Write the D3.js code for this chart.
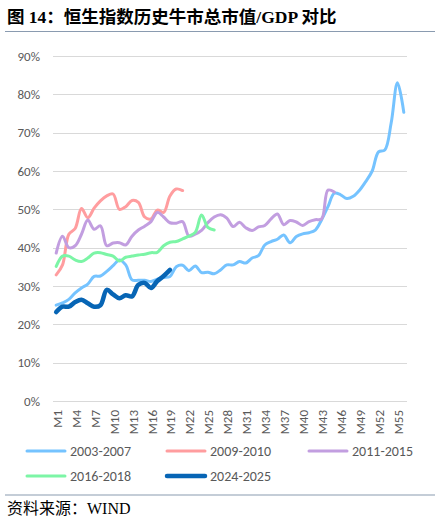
<!DOCTYPE html>
<html>
<head>
<meta charset="utf-8">
<script src="https://cdn.jsdelivr.net/npm/d3@7"></script>
<style>
    body { margin: 0; background: #fff; }
    svg { display: block; }
    .grid line { stroke: #d9d9d9; stroke-width: 1; }
    .tick-label { font-family: Calibri, Carlito, "Liberation Sans", Arial, sans-serif; fill: #595959; font-size: 13px; }
    .legend-label { font-family: Calibri, Carlito, "Liberation Sans", Arial, sans-serif; fill: #595959; font-size: 14px; }
</style>
</head>
<body>
<svg width="440" height="521"></svg>
<script>
// Month categories M1..M56
var months = d3.range(1, 57).map(function(i) { return "M" + i; });

var yTicks = [0, 0.1, 0.2, 0.3, 0.4, 0.5, 0.6, 0.7, 0.8, 0.9];

var seriesNames = ["2003-2007", "2009-2010", "2011-2015", "2016-2018", "2024-2025"];

// Market cap / GDP (percent)
var s2003 = [25.0, 25.6, 26.5, 28.2, 29.5, 30.5, 32.5, 32.6, 33.8, 35.3,
             36.8, 35.5, 31.6, 31.5, 31.5, 31.2, 31.8, 32.2, 32.5, 35.0,
             35.4, 34.0, 35.2, 33.5, 33.6, 33.2, 34.2, 35.5, 35.5, 36.4,
             36.0, 37.3, 37.9, 40.7, 41.6, 42.2, 43.3, 41.3, 42.9, 43.6,
             43.9, 44.6, 47.3, 50.7, 54.2, 53.8, 52.8, 53.4, 55.0, 57.3,
             60.0, 65.0, 65.5, 72.5, 83.0, 75.3];
var s2009 = [32.9, 35.5, 43.5, 45.0, 50.2, 47.8, 50.3, 52.2, 53.5, 54.0,
             50.0, 50.7, 52.3, 51.8, 48.0, 47.5, 49.8, 49.2, 53.5, 55.3,
             54.9];
var s2011 = [38.6, 43.0, 40.0, 40.5, 43.5, 47.2, 44.8, 45.7, 40.5, 41.2,
             41.3, 40.7, 43.0, 44.6, 45.6, 46.8, 49.2, 48.0, 46.5, 46.4,
             46.8, 43.0, 43.5, 44.5, 46.5, 48.0, 48.6, 47.7, 45.5, 46.6,
             45.2, 44.5, 45.4, 45.8, 47.5, 48.8, 46.0, 47.1, 46.7, 45.8,
             46.8, 47.3, 47.5, 55.0, 54.5];
var s2016 = [35.1, 37.8, 37.8, 36.8, 36.4, 37.3, 38.6, 38.7, 38.2, 37.8,
             36.5, 37.5, 37.8, 38.1, 38.3, 38.7, 38.8, 40.5, 41.4, 41.6,
             42.3, 43.0, 44.0, 48.5, 45.3, 44.6];
var s2024 = [23.2, 24.6, 24.6, 25.8, 26.4, 25.5, 24.6, 25.0, 29.0, 27.8,
             26.8, 27.6, 27.3, 30.3, 30.8, 29.5, 31.3, 32.6, 34.2];

var seriesValues = [s2003, s2009, s2011, s2016, s2024];
var seriesColors = ["#75c3ff", "#ff9d9f", "#c29ee0", "#7cf5a6", "#0765b5"];
var seriesWidths = [3, 3, 3, 3, 4.5];

var svg = d3.select("svg");
var serifCjk = "'Liberation Serif', 'Times New Roman', 'Noto Sans CJK SC', serif";

// Title and rules
svg.append("text")
    .attr("x", 7)
    .attr("y", 23)
    .attr("font-family", serifCjk)
    .attr("font-weight", "bold")
    .attr("font-size", 17.5)
    .attr("fill", "#000")
    .text("图 14：恒生指数历史牛市总市值/GDP 对比");

svg.append("line")
    .attr("x1", 5).attr("x2", 435)
    .attr("y1", 31.5).attr("y2", 31.5)
    .attr("stroke", "#8a9bb0").attr("stroke-width", 1.2);

svg.append("line")
    .attr("x1", 5).attr("x2", 435)
    .attr("y1", 495).attr("y2", 495)
    .attr("stroke", "#8a9bb0").attr("stroke-width", 1.2);

svg.append("text")
    .attr("x", 7)
    .attr("y", 514)
    .attr("font-family", serifCjk)
    .attr("font-size", 16)
    .attr("fill", "#000")
    .text("资料来源：WIND");

// Scales
var x = d3.scalePoint()
    .domain(months)
    .range([56.2, 403.8]);

var y = d3.scaleLinear()
    .domain([0, 0.9])
    .range([401, 56]);

// Gridlines
var grid = svg.append("g").attr("class", "grid");
grid.selectAll("line")
    .data(yTicks)
    .enter().append("line")
    .attr("x1", 53).attr("x2", 407)
    .attr("y1", function(d) { return Math.round(y(d)) + 0.5; })
    .attr("y2", function(d) { return Math.round(y(d)) + 0.5; });

// Y labels
svg.append("g").selectAll("text")
    .data(yTicks)
    .enter().append("text")
    .attr("class", "tick-label")
    .attr("x", 40)
    .attr("y", function(d) { return y(d) + 4.5; })
    .attr("text-anchor", "end")
    .text(d3.format(".0%"));

// X labels, every third month
var xLabels = months.filter(function(d, i) { return i % 3 == 0; });
svg.append("g").selectAll("text")
    .data(xLabels)
    .enter().append("text")
    .attr("class", "tick-label")
    .attr("text-anchor", "end")
    .attr("transform", function(d) {
        return "translate(" + (x(d) + 5.5) + ",410) rotate(-90)";
    })
    .text(function(d) { return d; });

// Lines
var line = d3.line()
    .x(function(d, i) { return x(months[i]); })
    .y(function(d) { return y(d / 100); })
    .curve(d3.curveCatmullRom.alpha(0.5));

seriesValues.forEach(function(values, i) {
    svg.append("path")
        .datum(values)
        .attr("fill", "none")
        .attr("stroke", seriesColors[i])
        .attr("stroke-width", seriesWidths[i])
        .attr("stroke-linejoin", "round")
        .attr("stroke-linecap", "round")
        .attr("d", line);
});

// Legend
var legendPos = [
    [27, 451], [167, 451], [309, 451],
    [27, 476], [167, 476]
];
var legend = svg.append("g");
seriesNames.forEach(function(name, i) {
    var p = legendPos[i];
    legend.append("line")
        .attr("x1", p[0]).attr("x2", p[0] + 38)
        .attr("y1", p[1]).attr("y2", p[1])
        .attr("stroke", seriesColors[i])
        .attr("stroke-width", seriesWidths[i])
        .attr("stroke-linecap", "round");
    legend.append("text")
        .attr("class", "legend-label")
        .attr("x", p[0] + 43)
        .attr("y", p[1] + 5)
        .text(name);
});
</script>
</body>
</html>
